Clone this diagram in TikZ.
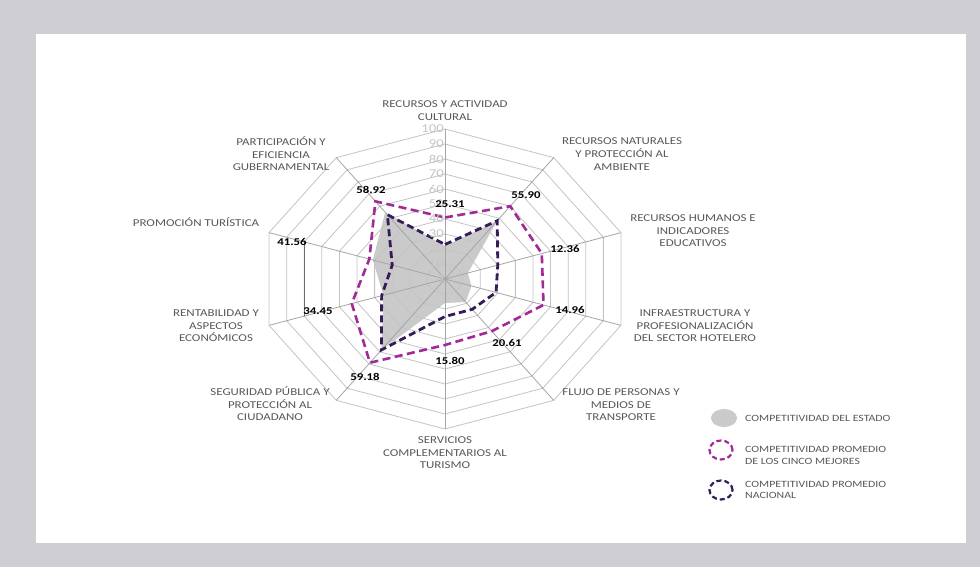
\documentclass[tikz,border=0pt]{standalone}
\usepackage{fontspec}
\setmainfont{Carlito}[FakeStretch=1.23]
\usetikzlibrary{shapes.geometric}
\definecolor{framegray}{RGB}{206,206,211}
\definecolor{ringgray}{RGB}{196,196,196}
\definecolor{spokegray}{RGB}{165,165,165}
\definecolor{statefill}{RGB}{202,202,202}
\definecolor{topfive}{RGB}{162,42,152}
\definecolor{national}{RGB}{52,28,88}
\definecolor{labgray}{RGB}{88,88,88}
\definecolor{scalegray}{RGB}{196,196,196}
\begin{document}
\begin{tikzpicture}[x=1pt,y=-1pt,
  declare function={px(\aa,\rr)=445+185*\rr*cos(\aa); py(\aa,\rr)=279-150*\rr*sin(\aa);},
  ring/.style={draw=ringgray,line width=0.8pt,line join=miter},
  spoke/.style={draw=spokegray,line width=0.8pt},
  pinkline/.style={draw=topfive,line width=2.6pt,dash pattern=on 8pt off 4.5pt,line join=miter},
  darkline/.style={draw=national,line width=2.8pt,dash pattern=on 7pt off 4pt,line join=miter},
  catlab/.style={text=labgray,align=center,inner sep=0pt,font=\fontsize{10.5}{12.6}\selectfont},
  vallab/.style={text=black,inner sep=0pt,font=\fontsize{10.4}{12}\selectfont\bfseries},
  scalelab/.style={text=scalegray,inner sep=0pt,anchor=east,font=\fontsize{12}{12}\selectfont},
  leglab/.style={text=labgray,align=left,anchor=west,inner sep=0pt,font=\fontsize{9.6}{11.8}\selectfont},
]
\useasboundingbox (0,0) rectangle (980,567);
\fill[framegray] (0,0) rectangle (980,567);
\fill[white] (36,34) rectangle (966,543);

\coordinate (c) at (445,279);
\foreach \k in {0,...,9}
  \coordinate (v\k) at ({px(90-36*\k,1)},{py(90-36*\k,1)});

% state (gray fill)
\foreach \k/\q in {0/0.22,1/0.48,2/0.13,3/0.15,4/0.19,5/0.16,6/0.585,7/0.35,8/0.41,9/0.55}
  \coordinate (g\k) at ({px(90-36*\k,\q)},{py(90-36*\k,\q)});
\fill[statefill] (g0) -- (g1) -- (g2) -- (g3) -- (g4) -- (g5) -- (g6) -- (g7) -- (g8) -- (g9) -- cycle;

% grid
\foreach \r in {1,...,10}
  \draw[ring] ({px(90,\r/10)},{py(90,\r/10)})
    \foreach \k in {1,...,9}{ -- ({px(90-36*\k,\r/10)},{py(90-36*\k,\r/10)}) } -- cycle;
\foreach \k in {0,...,9}
  \draw[spoke] (c) -- (v\k);
\coordinate (r8a) at ({px(162,0.8)},{py(162,0.8)});
\coordinate (r8b) at ({px(198,0.8)},{py(198,0.8)});
\draw[draw=gray!85!black,line width=0.9pt] (r8a) -- (r8b);

% top five average
\foreach \k/\q in {0/0.41,1/0.60,2/0.55,3/0.56,4/0.43,5/0.44,6/0.69,7/0.53,8/0.43,9/0.64}
  \coordinate (p\k) at ({px(90-36*\k,\q)},{py(90-36*\k,\q)});
\draw[pinkline] (p0) -- (p1) -- (p2) -- (p3) -- (p4) -- (p5) -- (p6) -- (p7) -- (p8) -- (p9) -- cycle;

% national average
\foreach \k/\q in {0/0.23,1/0.48,2/0.30,3/0.29,4/0.25,5/0.25,6/0.585,7/0.36,8/0.30,9/0.53}
  \coordinate (n\k) at ({px(90-36*\k,\q)},{py(90-36*\k,\q)});
\draw[darkline] (n0) -- (n1) -- (n2) -- (n3) -- (n4) -- (n5) -- (n6) -- (n7) -- (n8) -- (n9) -- cycle;

% scale
\foreach \n/\t in {0/0,1/10,2/20,3/30,4/40,5/50,6/60,7/70,8/80,9/90,10/100}
  \node[scalelab] (s\n) at (444,{279-15*\n}) {\t};

% category labels
\node[catlab] (a0) at (445,110.5) {RECURSOS Y ACTIVIDAD\\CULTURAL};
\node[catlab] (a1) at (622,154) {RECURSOS NATURALES\\Y PROTECCIÓN AL\\AMBIENTE};
\node[catlab] (a2) at (693,231) {RECURSOS HUMANOS E\\INDICADORES\\EDUCATIVOS};
\node[catlab] (a3) at (695,326) {INFRAESTRUCTURA Y\\PROFESIONALIZACIÓN\\DEL SECTOR HOTELERO};
\node[catlab] (a4) at (621,405) {FLUJO DE PERSONAS Y\\MEDIOS DE\\TRANSPORTE};
\node[catlab] (a5) at (445,453) {SERVICIOS\\COMPLEMENTARIOS AL\\TURISMO};
\node[catlab] (a6) at (270,404) {SEGURIDAD PÚBLICA Y\\PROTECCIÓN AL\\CIUDADANO};
\node[catlab] (a7) at (216,326) {RENTABILIDAD Y\\ASPECTOS\\ECONÓMICOS};
\node[catlab] (a8) at (196,222) {PROMOCIÓN TURÍSTICA};
\node[catlab] (a9) at (281,154) {PARTICIPACIÓN Y\\EFICIENCIA\\GUBERNAMENTAL};

% value labels
\node[vallab] (b0) at (450,204) {25.31};
\node[vallab] (b1) at (526,195) {55.90};
\node[vallab] (b2) at (565,249) {12.36};
\node[vallab] (b3) at (570,310) {14.96};
\node[vallab] (b4) at (507,343) {20.61};
\node[vallab] (b5) at (450,361) {15.80};
\node[vallab] (b6) at (365,377) {59.18};
\node[vallab] (b7) at (318,311) {34.45};
\node[vallab] (b8) at (292,242) {41.56};
\node[vallab] (b9) at (371,190) {58.92};

% legend
\node[ellipse,fill=statefill,minimum width=26pt,minimum height=18pt,inner sep=0pt] (l1) at (724,418) {};
\node[leglab] (t1) at (745,418) {COMPETITIVIDAD DEL ESTADO};
\node[ellipse,draw=topfive,line width=2.2pt,dash pattern=on 5pt off 3pt,minimum width=23pt,minimum height=19pt,inner sep=0pt] (l2) at (721,450) {};
\node[leglab] (t2) at (745,455.5) {COMPETITIVIDAD PROMEDIO\\DE LOS CINCO MEJORES};
\node[ellipse,draw=national,line width=2.2pt,dash pattern=on 5pt off 3pt,minimum width=23pt,minimum height=19pt,inner sep=0pt] (l3) at (721,490) {};
\node[leglab] (t3) at (745,490) {COMPETITIVIDAD PROMEDIO\\NACIONAL};
\end{tikzpicture}
\end{document}
